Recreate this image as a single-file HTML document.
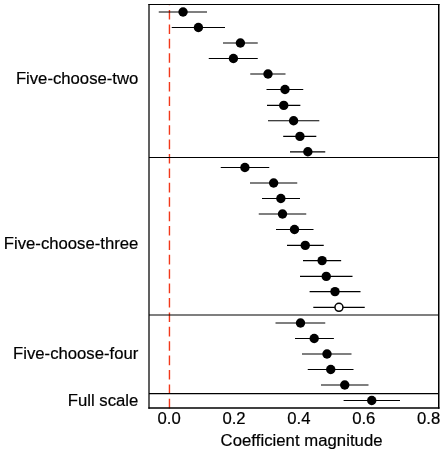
<!DOCTYPE html>
<html><head><meta charset="utf-8"><title>Coefficient magnitude</title>
<style>html,body{margin:0;padding:0;background:#fff;}svg{display:block;}text{font-family:"Liberation Sans",Arial,Helvetica,sans-serif;font-size:16.7px;fill:#000;stroke:#000;stroke-width:0.2px;}</style></head><body>
<svg width="444" height="454" viewBox="0 0 444 454">
<rect x="0" y="0" width="444" height="454" fill="#fff"/>
<line x1="169.45" y1="408.4" x2="169.45" y2="4.5" stroke="#f2381a" stroke-width="1.4" stroke-dasharray="9.6 4.8"/>
<line x1="148.4" y1="4.5" x2="439.5" y2="4.5" stroke="#000" stroke-width="1.1"/>
<line x1="149.0" y1="4" x2="149.0" y2="408.7" stroke="#000" stroke-width="1.25"/>
<line x1="438.75" y1="4" x2="438.75" y2="408.7" stroke="#000" stroke-width="1.5"/>
<line x1="148.4" y1="407.95" x2="439.5" y2="407.95" stroke="#000" stroke-width="1.35"/>
<line x1="149.0" y1="157.5" x2="438.6" y2="157.5" stroke="#000" stroke-width="1.15"/>
<line x1="149.0" y1="315.0" x2="438.6" y2="315.0" stroke="#000" stroke-width="1.15"/>
<line x1="149.0" y1="393.6" x2="438.6" y2="393.6" stroke="#000" stroke-width="1.15"/>
<line x1="158.75" y1="12.0" x2="207" y2="12.0" stroke="#000" stroke-width="1.15"/>
<circle cx="183.05" cy="12.0" r="4.7" fill="#000"/>
<line x1="171.75" y1="27.5" x2="225" y2="27.5" stroke="#000" stroke-width="1.15"/>
<circle cx="198.4" cy="27.5" r="4.7" fill="#000"/>
<line x1="223" y1="43.0" x2="257.75" y2="43.0" stroke="#000" stroke-width="1.15"/>
<circle cx="240.4" cy="43.0" r="4.7" fill="#000"/>
<line x1="208.75" y1="58.5" x2="257.75" y2="58.5" stroke="#000" stroke-width="1.15"/>
<circle cx="233.4" cy="58.5" r="4.7" fill="#000"/>
<line x1="250.25" y1="74.0" x2="285.5" y2="74.0" stroke="#000" stroke-width="1.15"/>
<circle cx="268.0" cy="74.0" r="4.7" fill="#000"/>
<line x1="266.5" y1="89.5" x2="303.25" y2="89.5" stroke="#000" stroke-width="1.15"/>
<circle cx="285.0" cy="89.5" r="4.7" fill="#000"/>
<line x1="267" y1="105.4" x2="300.35" y2="105.4" stroke="#000" stroke-width="1.15"/>
<circle cx="283.75" cy="105.4" r="4.7" fill="#000"/>
<line x1="268" y1="120.7" x2="319.3" y2="120.7" stroke="#000" stroke-width="1.15"/>
<circle cx="293.6" cy="120.7" r="4.7" fill="#000"/>
<line x1="283.2" y1="136.4" x2="316.3" y2="136.4" stroke="#000" stroke-width="1.15"/>
<circle cx="299.95" cy="136.4" r="4.7" fill="#000"/>
<line x1="290" y1="151.8" x2="325.25" y2="151.8" stroke="#000" stroke-width="1.15"/>
<circle cx="307.85" cy="151.8" r="4.7" fill="#000"/>
<line x1="220.75" y1="167.5" x2="269.25" y2="167.5" stroke="#000" stroke-width="1.15"/>
<circle cx="244.9" cy="167.5" r="4.7" fill="#000"/>
<line x1="250" y1="183.0" x2="297.25" y2="183.0" stroke="#000" stroke-width="1.15"/>
<circle cx="273.65" cy="183.0" r="4.7" fill="#000"/>
<line x1="262.0" y1="198.5" x2="300" y2="198.5" stroke="#000" stroke-width="1.15"/>
<circle cx="280.85" cy="198.5" r="4.7" fill="#000"/>
<line x1="258.75" y1="214.0" x2="306.25" y2="214.0" stroke="#000" stroke-width="1.15"/>
<circle cx="282.5" cy="214.0" r="4.7" fill="#000"/>
<line x1="276" y1="229.5" x2="313.5" y2="229.5" stroke="#000" stroke-width="1.15"/>
<circle cx="294.5" cy="229.5" r="4.7" fill="#000"/>
<line x1="287" y1="245.4" x2="323.75" y2="245.4" stroke="#000" stroke-width="1.15"/>
<circle cx="305.25" cy="245.4" r="4.7" fill="#000"/>
<line x1="303" y1="260.6" x2="341.15" y2="260.6" stroke="#000" stroke-width="1.15"/>
<circle cx="322.1" cy="260.6" r="4.7" fill="#000"/>
<line x1="300" y1="276.4" x2="352.5" y2="276.4" stroke="#000" stroke-width="1.15"/>
<circle cx="326.25" cy="276.4" r="4.7" fill="#000"/>
<line x1="309.6" y1="291.6" x2="360.5" y2="291.6" stroke="#000" stroke-width="1.15"/>
<circle cx="335" cy="291.6" r="4.7" fill="#000"/>
<line x1="313.3" y1="307.3" x2="364.75" y2="307.3" stroke="#000" stroke-width="1.15"/>
<circle cx="338.95" cy="307.3" r="4.0" fill="#fff" stroke="#000" stroke-width="1.5"/>
<line x1="275.5" y1="323.0" x2="325.25" y2="323.0" stroke="#000" stroke-width="1.15"/>
<circle cx="300.5" cy="323.0" r="4.7" fill="#000"/>
<line x1="295.0" y1="338.5" x2="333.9" y2="338.5" stroke="#000" stroke-width="1.15"/>
<circle cx="314.2" cy="338.5" r="4.7" fill="#000"/>
<line x1="302" y1="354.0" x2="351.5" y2="354.0" stroke="#000" stroke-width="1.15"/>
<circle cx="327.0" cy="354.0" r="4.7" fill="#000"/>
<line x1="307.75" y1="369.5" x2="353.5" y2="369.5" stroke="#000" stroke-width="1.15"/>
<circle cx="330.75" cy="369.5" r="4.7" fill="#000"/>
<line x1="321" y1="385.0" x2="368.5" y2="385.0" stroke="#000" stroke-width="1.15"/>
<circle cx="344.75" cy="385.0" r="4.7" fill="#000"/>
<line x1="343.6" y1="400.5" x2="400" y2="400.5" stroke="#000" stroke-width="1.15"/>
<circle cx="371.75" cy="400.5" r="4.7" fill="#000"/>
<text x="138.3" y="83.9" text-anchor="end">Five-choose-two</text>
<text x="138.3" y="248.9" text-anchor="end">Five-choose-three</text>
<text x="138.3" y="359.0" text-anchor="end">Five-choose-four</text>
<text x="138.3" y="405.5" text-anchor="end">Full scale</text>
<text x="169.2" y="424.3" text-anchor="middle">0.0</text>
<text x="234.05" y="424.3" text-anchor="middle">0.2</text>
<text x="298.9" y="424.3" text-anchor="middle">0.4</text>
<text x="363.75" y="424.3" text-anchor="middle">0.6</text>
<text x="428.6" y="424.3" text-anchor="middle">0.8</text>
<text x="301.6" y="446.2" text-anchor="middle" letter-spacing="0.04">Coefficient magnitude</text>
</svg></body></html>
